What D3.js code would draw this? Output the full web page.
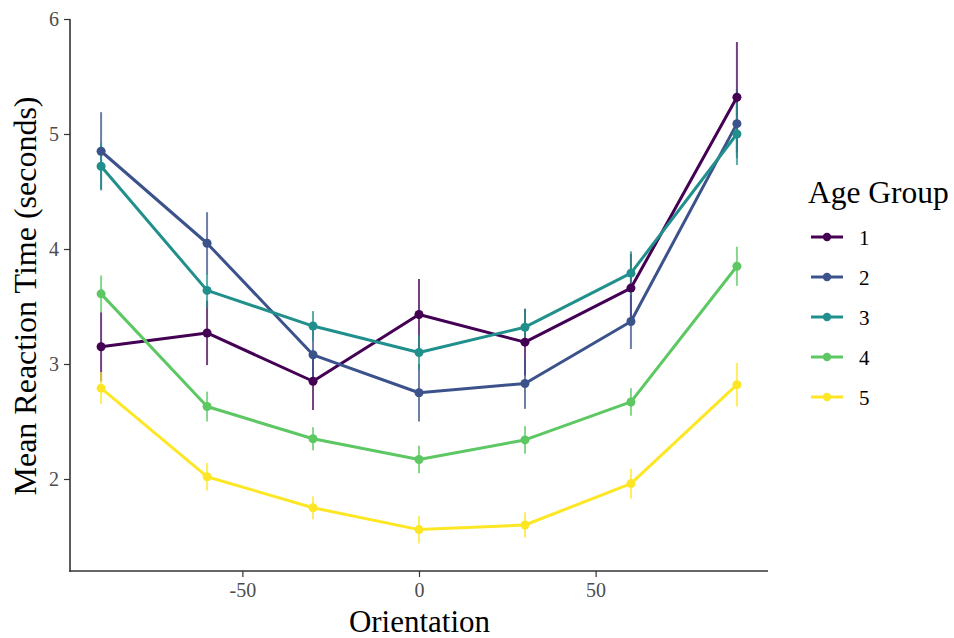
<!DOCTYPE html>
<html>
<head>
<meta charset="utf-8">
<script src="https://cdn.jsdelivr.net/npm/d3@7"></script>
<style>
  html, body { margin: 0; padding: 0; background: #fff; }
  svg { display: block; font-family: "Liberation Serif", "Times New Roman", serif; }
</style>
</head>
<body>
<svg id="chart" width="954" height="638"></svg>
<script>
// ---- data ----
const orientations = [-90, -60, -30, 0, 30, 60, 90];
const groups = ["1", "2", "3", "4", "5"];
const colors = ["#440154", "#3B528B", "#21908C", "#5DC863", "#FDE725"];
const meanG1 = [3.15, 3.27, 2.85, 3.43, 3.19, 3.66, 5.32];
const meanG2 = [4.85, 4.05, 3.08, 2.75, 2.83, 3.37, 5.09];
const meanG3 = [4.72, 3.64, 3.33, 3.10, 3.32, 3.79, 5.00];
const meanG4 = [3.61, 2.63, 2.35, 2.17, 2.34, 2.67, 3.85];
const meanG5 = [2.79, 2.02, 1.75, 1.56, 1.60, 1.96, 2.82];
const seG1 = [0.30, 0.28, 0.25, 0.31, 0.29, 0.30, 0.48];
const seG2 = [0.34, 0.27, 0.25, 0.25, 0.22, 0.24, 0.30];
const seG3 = [0.20, 0.15, 0.13, 0.15, 0.16, 0.19, 0.27];
const seG4 = [0.16, 0.13, 0.10, 0.12, 0.12, 0.12, 0.17];
const seG5 = [0.14, 0.12, 0.10, 0.12, 0.11, 0.13, 0.19];
const xTicks = [-50, 0, 50];
const yTicks = [2, 3, 4, 5, 6];
const xTitle = "Orientation";
const yTitle = "Mean Reaction Time (seconds)";
const legendTitle = "Age Group";

const means = [meanG1, meanG2, meanG3, meanG4, meanG5];
const ses = [seG1, seG2, seG3, seG4, seG5];
const series = groups.map((g, i) => ({
  group: g, color: colors[i],
  values: orientations.map((o, j) => ({ x: o, y: means[i][j], se: ses[i][j] }))
}));

// ---- layout ----
const svg = d3.select("#chart");
const pLeft = 70, pRight = 768, pTop = 19, pBottom = 571;
const x = d3.scaleLinear().domain([-98.8, 98.8]).range([pLeft, pRight]);
const y = d3.scaleLinear().domain([1.2, 6.0]).range([pBottom, pTop]);

// axes
const axisColor = "#333333";
const fmt = d => String(d);
const xAxis = svg.append("g").attr("transform", `translate(0,${pBottom})`)
  .call(d3.axisBottom(x).tickValues(xTicks).tickSize(6).tickPadding(6).tickFormat(fmt));
const yAxis = svg.append("g").attr("transform", `translate(${pLeft},0)`)
  .call(d3.axisLeft(y).tickValues(yTicks).tickSize(6).tickPadding(5).tickFormat(fmt));
[xAxis, yAxis].forEach(a => {
  a.select(".domain").attr("stroke", axisColor).attr("stroke-width", 1.6);
  a.selectAll(".tick line").attr("stroke", axisColor).attr("stroke-width", 1.2);
  a.selectAll(".tick text").attr("fill", "#4d4d4d").style("font-size", "20px")
    .style("font-family", '"Liberation Serif", serif');
});
xAxis.select(".domain").attr("d", `M${pLeft - 0.8},0H${pRight}`);
yAxis.select(".domain").attr("d", `M0,${pTop}V${pBottom + 0.8}`);

// error bars
const plot = svg.append("g");
series.forEach(s => {
  plot.append("g").selectAll("line").data(s.values).join("line")
    .attr("x1", d => x(d.x)).attr("x2", d => x(d.x))
    .attr("y1", d => y(d.y - d.se)).attr("y2", d => y(d.y + d.se))
    .attr("stroke", s.color).attr("stroke-width", 2).attr("stroke-opacity", 0.75);
});
// lines
const line = d3.line().x(d => x(d.x)).y(d => y(d.y));
series.forEach(s => {
  plot.append("path").datum(s.values).attr("d", line)
    .attr("fill", "none").attr("stroke", s.color).attr("stroke-width", 3)
    .attr("stroke-linejoin", "round");
});
// points
series.forEach(s => {
  plot.append("g").selectAll("circle").data(s.values).join("circle")
    .attr("cx", d => x(d.x)).attr("cy", d => y(d.y)).attr("r", 4.5)
    .attr("fill", s.color);
});

// axis titles
svg.append("text").attr("x", (pLeft + pRight) / 2 + 0.5).attr("y", 632)
  .attr("text-anchor", "middle").style("font-size", "31px").attr("fill", "#000").text(xTitle);
svg.append("text").attr("transform", `translate(36,${(pTop + pBottom) / 2 + 1}) rotate(-90)`)
  .attr("text-anchor", "middle").style("font-size", "32px").attr("fill", "#000").text(yTitle);

// legend
const lg = svg.append("g").attr("transform", "translate(808,0)");
lg.append("text").attr("x", 0).attr("y", 203).style("font-size", "31.5px").attr("fill", "#000").text(legendTitle);
series.forEach((s, i) => {
  const cy = 237 + i * 40;
  lg.append("line").attr("x1", 3).attr("x2", 35).attr("y1", cy).attr("y2", cy)
    .attr("stroke", s.color).attr("stroke-width", 3);
  lg.append("circle").attr("cx", 19).attr("cy", cy).attr("r", 4.2).attr("fill", s.color);
  lg.append("text").attr("x", 51).attr("y", cy + 7.5).style("font-size", "21px")
    .attr("fill", "#000").text(s.group);
});
</script>
</body>
</html>
